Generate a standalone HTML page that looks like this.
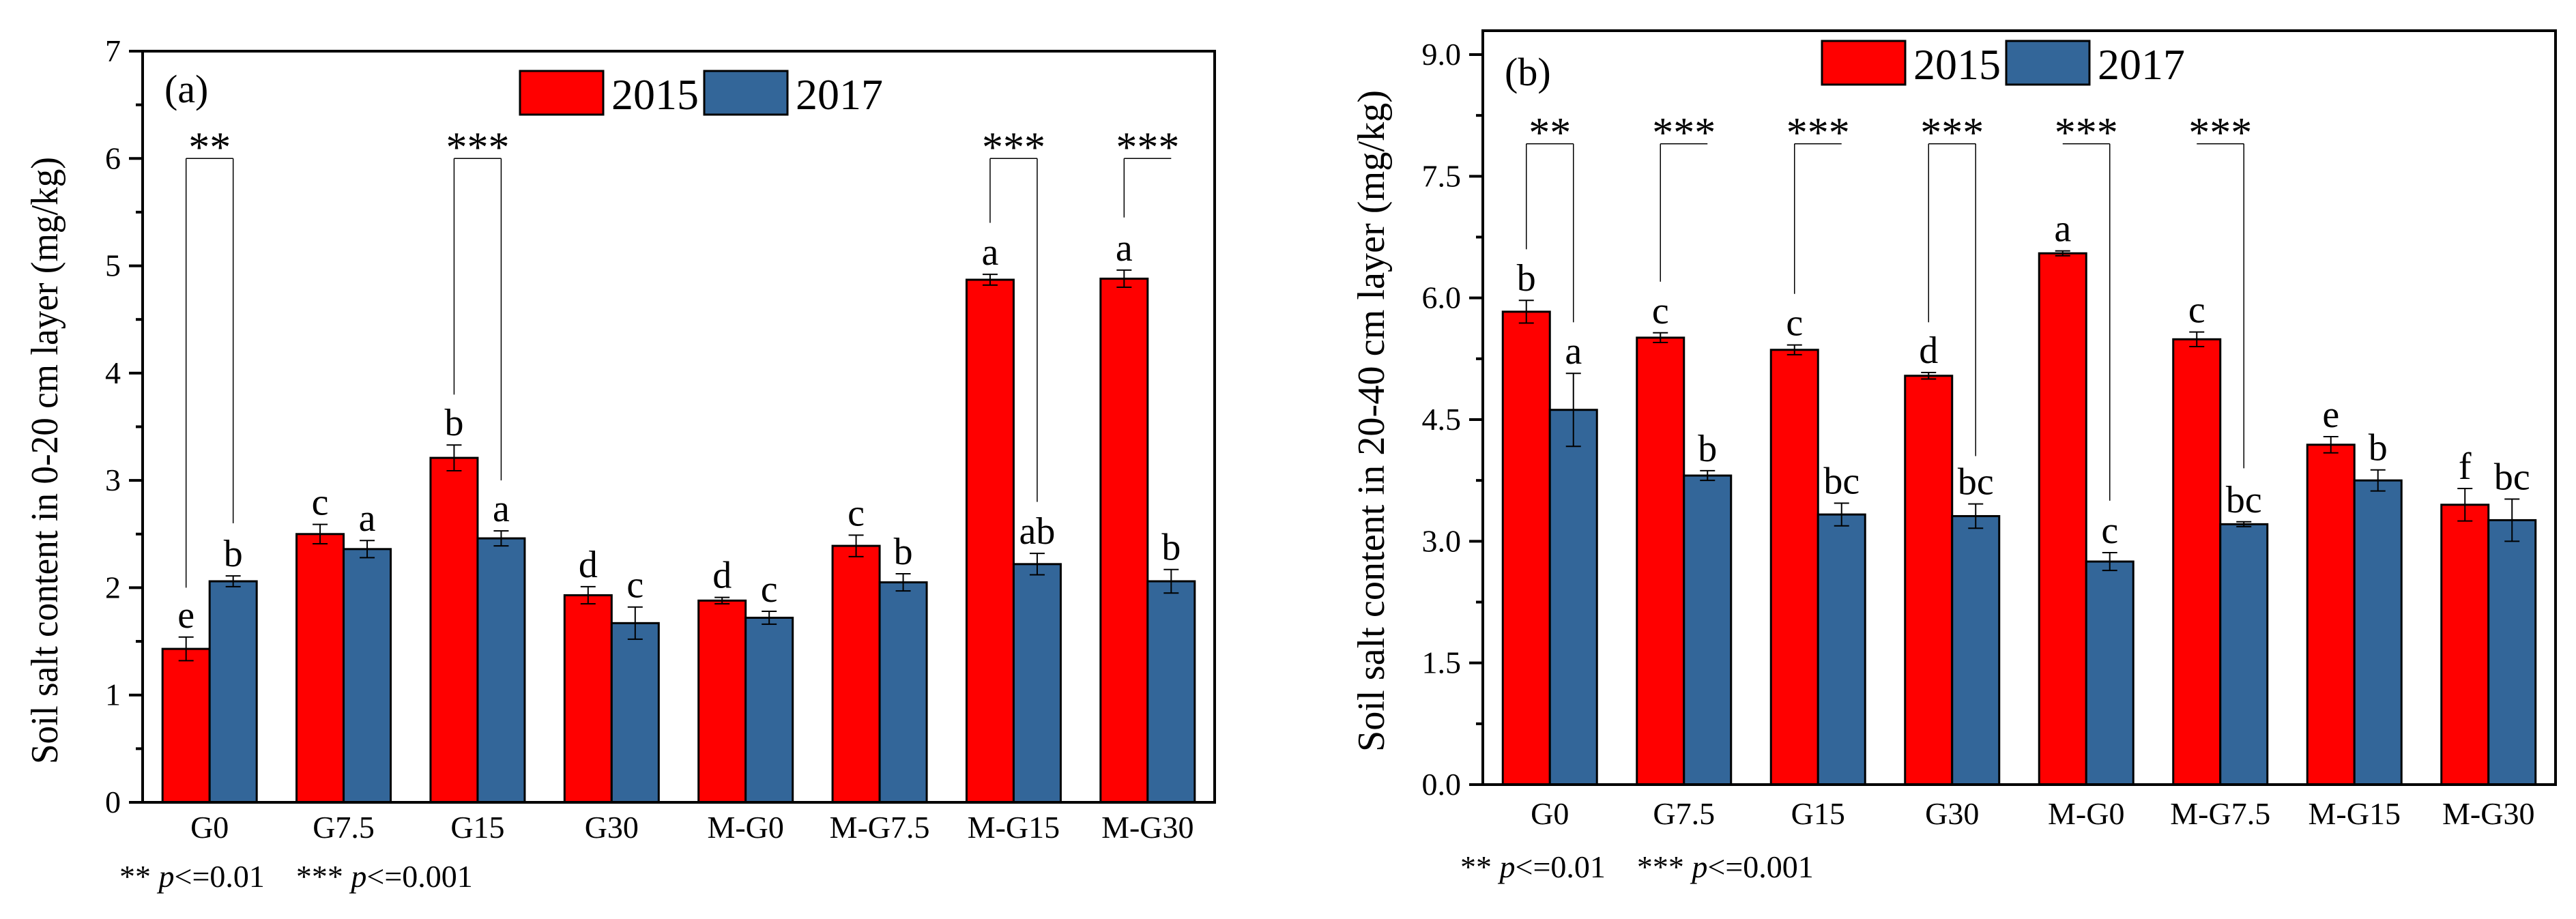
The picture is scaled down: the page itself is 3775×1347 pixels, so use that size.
<!DOCTYPE html>
<html><head><meta charset="utf-8">
<style>
html,body{margin:0;padding:0;background:#fff;}
svg, svg text{font-family:"Liberation Serif","DejaVu Serif","Times New Roman",serif;}
</style></head>
<body>
<svg id="chart" width="3775" height="1342" viewBox="0 0 3775 1342" xmlns="http://www.w3.org/2000/svg" font-family="'Liberation Serif', 'DejaVu Serif', serif"></svg>
<script>
const categories = ["G0","G7.5","G15","G30","M-G0","M-G7.5","M-G15","M-G30"];
// Panel (a) 0-20 cm
const a2015 = [1.43,2.50,3.21,1.93,1.88,2.39,4.87,4.88];
const a2015err = [0.11,0.09,0.12,0.08,0.03,0.10,0.05,0.08];
const a2017 = [2.06,2.36,2.46,1.67,1.72,2.05,2.22,2.06];
const a2017err = [0.05,0.08,0.07,0.15,0.06,0.08,0.10,0.11];
const aLetters2015 = ["e","c","b","d","d","c","a","a"];
const aLetters2017 = ["b","a","a","c","c","b","ab","b"];
const aTicks = [0,1,2,3,4,5,6,7];
const aSigIdx = [0,2,6,7];
const aSigStars = ["**","***","***","***"];
const aSigLeft = [2.0,3.8,5.4,5.45];
const aSigRight = [2.6,3.0,2.8,null];
// Panel (b) 20-40 cm
const b2015 = [5.83,5.51,5.36,5.04,6.55,5.49,4.19,3.45];
const b2015err = [0.14,0.06,0.06,0.04,0.03,0.09,0.10,0.20];
const b2017 = [4.62,3.81,3.33,3.31,2.75,3.21,3.75,3.26];
const b2017err = [0.45,0.06,0.14,0.15,0.11,0.03,0.13,0.26];
const bLetters2015 = ["b","c","c","d","a","c","e","f"];
const bLetters2017 = ["a","b","bc","bc","c","bc","b","bc"];
const bTicks = [0,1.5,3,4.5,6,7.5,9];
const bTickLabels = ["0.0","1.5","3.0","4.5","6.0","7.5","9.0"];
const bSigIdx = [0,1,2,3,4,5];
const bSigStars = ["**","***","***","***","***","***"];
const bSigLeft = [6.6,6.2,6.05,5.7,null,null];
const bSigRight = [5.7,null,null,4.05,3.5,3.9];

const NS="http://www.w3.org/2000/svg";
const svg=document.getElementById('chart');
const FF="Liberation Serif, DejaVu Serif, serif";
function el(tag,attrs,parent){const e=document.createElementNS(NS,tag);for(const k in attrs)e.setAttribute(k,attrs[k]);(parent||svg).appendChild(e);return e;}
function txt(s,attrs,parent){attrs['font-family']=FF;const e=el('text',attrs,parent);e.textContent=s;return e;}

function panel(cfg){
  const g=el('g',{});
  
  
  const L=cfg.left,R=cfg.right,T=cfg.top,B=cfg.bottom;
  const y=v=>cfg.y0-(v-0)*(cfg.y0-cfg.yTopVal)/cfg.maxTick;
  const gw=(R-L)/categories.length;
  const cx=i=>L+gw*(i+0.5);
  const bw=69;
  for(let i=0;i<categories.length;i++){
    const r=el('rect',{x:cx(i)-bw,y:y(cfg.s1[i]),width:bw,height:y(0)-y(cfg.s1[i]),fill:'#ff0000',stroke:'#000','stroke-width':3},g);
    
    
    const r2=el('rect',{x:cx(i),y:y(cfg.s2[i]),width:bw,height:y(0)-y(cfg.s2[i]),fill:'#336699',stroke:'#000','stroke-width':3},g);
    
    
    [[cx(i)-bw/2,cfg.s1[i],cfg.e1[i],cfg.l1[i]],[cx(i)+bw/2,cfg.s2[i],cfg.e2[i],cfg.l2[i]]].forEach(([x,v,e,l])=>{
      const eb=el('path',{d:`M${x} ${y(v-e)}V${y(v+e)}M${x-11} ${y(v-e)}H${x+11}M${x-11} ${y(v+e)}H${x+11}`,stroke:'#000','stroke-width':2,fill:'none'},g);
      
      
      const t=txt(l,{x:x,y:y(v+e)-14,'font-size':56,'text-anchor':'middle'},g);
      
      
    });
  }
  cfg.sigIdx.forEach((i,k)=>{
    const x1=cx(i)-bw/2,x2=cx(i)+bw/2,yt=y(cfg.sigTop);
    let d=`M${x1} ${yt}H${x2}`;
    if(cfg.sigL[k]!=null)d+=`M${x1} ${yt}V${y(cfg.sigL[k])}`;
    if(cfg.sigR[k]!=null)d+=`M${x2} ${yt}V${y(cfg.sigR[k])}`;
    const p=el('path',{d:d,stroke:'#000','stroke-width':1.5,fill:'none'},g);
    
    
    const s=txt(cfg.stars[k],{x:cx(i),y:yt+4,'font-size':62,'text-anchor':'middle'},g);
    
    
  });
  const f=el('rect',{x:L,y:T,width:R-L,height:B-T,fill:'none',stroke:'#000','stroke-width':4},g);
  
  
  cfg.ticks.forEach((v,k)=>{
    el('line',{x1:L-20,x2:L,y1:y(v),y2:y(v),stroke:'#000','stroke-width':4},g);
    const t=txt(cfg.tickLabels[k],{x:L-32,y:y(v)+15,'font-size':46,'text-anchor':'end'},g);
    
    
    if(k<cfg.ticks.length-1){const m=(v+cfg.ticks[k+1])/2;el('line',{x1:L-10,x2:L,y1:y(m),y2:y(m),stroke:'#000','stroke-width':4},g);}
  });
  categories.forEach((c,i)=>{
    const t=txt(c,{x:cx(i),y:cfg.xLabelY,'font-size':46,'text-anchor':'middle'},g);
    
    
  });
  const yt=txt(cfg.yTitle,{x:0,y:0,'font-size':56,'text-anchor':'middle',transform:`translate(${cfg.yTitleX},${cfg.yTitleY}) rotate(-90)`,textLength:cfg.yTitleLen,lengthAdjust:'spacingAndGlyphs'},g);
  
  
  const pl=txt(cfg.label,{x:L+32,y:cfg.labelY,'font-size':58},g);
  
  
  [[cfg.legX,'#ff0000','2015'],[cfg.legX+270,'#336699','2017']].forEach(([x,c,s])=>{
    const lg=el('g',{},g);
    
    
    el('rect',{x:x,y:cfg.legY,width:122,height:64,fill:c,stroke:'#000','stroke-width':3},lg);
    txt(s,{x:x+134,y:cfg.legY+56,'font-size':64},lg);
  });
  const fn=el('text',{x:cfg.fnX,y:cfg.fnY,'font-size':46,'font-family':FF},g);
  
  
  fn.innerHTML='** <tspan font-style="italic">p</tspan>&lt;=0.01 &#160;&#160; *** <tspan font-style="italic">p</tspan>&lt;=0.001';
}

panel({name:'panel-a',left:209,right:1780,top:75,bottom:1176,y0:1176,yTopVal:75,maxTick:7,
  s1:a2015,e1:a2015err,s2:a2017,e2:a2017err,l1:aLetters2015,l2:aLetters2017,
  ticks:aTicks,tickLabels:aTicks.map(String),sigIdx:aSigIdx,stars:aSigStars,sigL:aSigLeft,sigR:aSigRight,sigTop:6,
  xLabelY:1228,yTitle:'Soil salt content in 0-20 cm layer (mg/kg)',yTitleX:84,yTitleY:675,yTitleLen:890,
  label:'(a)',labelY:150,legX:762,legY:104,fnX:175,fnY:1300});
panel({name:'panel-b',left:2173,right:3745,top:45,bottom:1150,y0:1150,yTopVal:80,maxTick:9,
  s1:b2015,e1:b2015err,s2:b2017,e2:b2017err,l1:bLetters2015,l2:bLetters2017,
  ticks:bTicks,tickLabels:bTickLabels,sigIdx:bSigIdx,stars:bSigStars,sigL:bSigLeft,sigR:bSigRight,sigTop:7.9,
  xLabelY:1208,yTitle:'Soil salt content in 20-40 cm layer (mg/kg)',yTitleX:2028,yTitleY:617,yTitleLen:970,
  label:'(b)',labelY:125,legX:2670,legY:60,fnX:2140,fnY:1286});
</script>
</body></html>
